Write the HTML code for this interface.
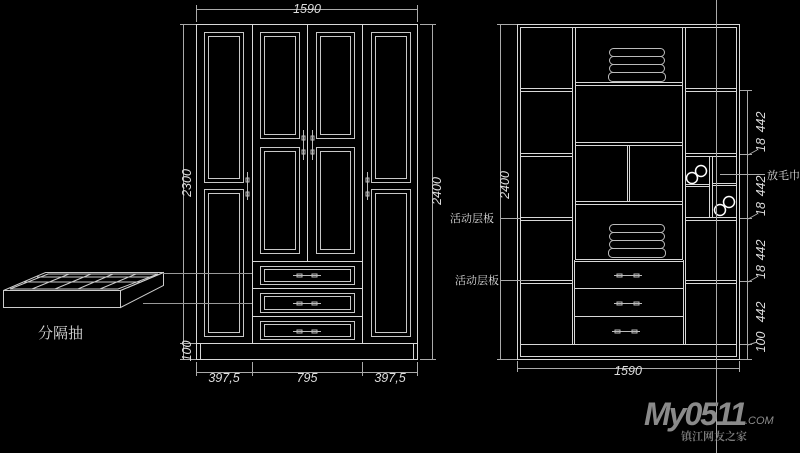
<!DOCTYPE html>
<html><head><meta charset="utf-8"><style>
html,body{margin:0;padding:0;background:#000;width:800px;height:453px;overflow:hidden}
svg{display:block}
text{font-family:"Liberation Sans",sans-serif;fill:#ddd;font-style:italic}
.cj{font-family:"Liberation Serif","Noto Serif CJK SC",serif;font-style:normal}
</style></head><body>
<svg width="800" height="453" viewBox="0 0 800 453" xmlns="http://www.w3.org/2000/svg">
<g stroke="#d8d8d8" stroke-width="1" fill="none">
<rect x="196.5" y="24.5" width="221" height="335"/>
<line x1="196" y1="343.5" x2="417" y2="343.5"/>
<line x1="200.5" y1="344" x2="200.5" y2="359"/><line x1="413.5" y1="344" x2="413.5" y2="359"/>
<line x1="252.5" y1="24" x2="252.5" y2="343"/>
<line x1="362.5" y1="24" x2="362.5" y2="343"/>
<line x1="307.5" y1="24" x2="307.5" y2="261"/>
<line x1="252" y1="261.5" x2="362" y2="261.5"/>
<line x1="252" y1="288.5" x2="362" y2="288.5"/>
<line x1="252" y1="316.5" x2="362" y2="316.5"/>
<g stroke="#c8c8c8">
<rect x="204.5" y="32.5" width="39" height="150"/><rect x="208.5" y="36.5" width="31" height="142"/>
<rect x="204.5" y="189.5" width="39" height="147"/><rect x="208.5" y="193.5" width="31" height="139"/>
<rect x="260.5" y="32.5" width="39" height="106"/><rect x="264.5" y="36.5" width="31" height="98"/>
<rect x="260.5" y="147.5" width="39" height="106"/><rect x="264.5" y="151.5" width="31" height="98"/>
<rect x="316.5" y="32.5" width="38" height="106"/><rect x="320.5" y="36.5" width="30" height="98"/>
<rect x="316.5" y="147.5" width="38" height="106"/><rect x="320.5" y="151.5" width="30" height="98"/>
<rect x="371.5" y="32.5" width="39" height="150"/><rect x="375.5" y="36.5" width="31" height="142"/>
<rect x="371.5" y="189.5" width="39" height="147"/><rect x="375.5" y="193.5" width="31" height="139"/>
<rect x="260.5" y="266.5" width="94" height="18"/><rect x="264.5" y="269.5" width="86" height="12"/>
<rect x="260.5" y="293.5" width="94" height="19"/><rect x="264.5" y="296.5" width="86" height="13"/>
<rect x="260.5" y="321.5" width="94" height="18"/><rect x="264.5" y="324.5" width="86" height="12"/>
</g>
<g stroke="#bbb">
<line x1="247.5" y1="172" x2="247.5" y2="200"/><rect x="246" y="178" width="3" height="4"/><rect x="246" y="192" width="3" height="4"/>
<line x1="367.5" y1="172" x2="367.5" y2="200"/><rect x="366" y="178" width="3" height="4"/><rect x="366" y="192" width="3" height="4"/>
<line x1="303.5" y1="130" x2="303.5" y2="160"/><rect x="302" y="136" width="3" height="4"/><rect x="302" y="150" width="3" height="4"/>
<line x1="312.5" y1="130" x2="312.5" y2="160"/><rect x="311" y="136" width="3" height="4"/><rect x="311" y="150" width="3" height="4"/>
<line x1="293" y1="275.5" x2="321" y2="275.5"/><rect x="297" y="274" width="5" height="3"/><rect x="312" y="274" width="5" height="3"/>
<line x1="293" y1="303.5" x2="321" y2="303.5"/><rect x="297" y="302" width="5" height="3"/><rect x="312" y="302" width="5" height="3"/>
<line x1="293" y1="331.5" x2="321" y2="331.5"/><rect x="297" y="330" width="5" height="3"/><rect x="312" y="330" width="5" height="3"/>
</g>
<g stroke="#aaa">
<line x1="196" y1="9.5" x2="417" y2="9.5"/><line x1="196.5" y1="5" x2="196.5" y2="22"/><line x1="417.5" y1="5" x2="417.5" y2="22"/>
<line x1="183.5" y1="24" x2="183.5" y2="359"/><line x1="180" y1="24.5" x2="196" y2="24.5"/><line x1="180" y1="343.5" x2="196" y2="343.5"/><line x1="180" y1="359.5" x2="196" y2="359.5"/>
<line x1="432.5" y1="24" x2="432.5" y2="359"/><line x1="420" y1="24.5" x2="436" y2="24.5"/><line x1="420" y1="359.5" x2="436" y2="359.5"/>
<line x1="196" y1="372.5" x2="417" y2="372.5"/>
<line x1="196.5" y1="362" x2="196.5" y2="376"/><line x1="252.5" y1="362" x2="252.5" y2="376"/><line x1="362.5" y1="362" x2="362.5" y2="376"/><line x1="417.5" y1="362" x2="417.5" y2="376"/>
</g>
<g stroke="#ccc">
<polygon points="3.5,290.5 120.5,290.5 120.5,307.5 3.5,307.5"/>
<polygon points="3.5,290.5 45.5,272.5 163.5,272.5 120.5,290.5"/>
<polygon points="120.5,290.5 163.5,272.5 163.5,285.5 120.5,307.5"/>
<polygon points="10,289 48,274 158,274 118,289"/>
<line x1="24" y1="282" x2="140" y2="282"/>
<line x1="37" y1="277" x2="150" y2="277"/>
<line x1="32" y1="289" x2="69" y2="274"/><line x1="55" y1="289" x2="91" y2="274"/><line x1="78" y1="289" x2="113" y2="274"/><line x1="100" y1="289" x2="136" y2="274"/>
</g>
<g stroke="#999"><line x1="163" y1="273.5" x2="252" y2="273.5"/><line x1="143" y1="303.5" x2="252" y2="303.5"/></g>

<rect x="517.5" y="24.5" width="222" height="335"/>
<rect x="520.5" y="27.5" width="216" height="329"/>
<line x1="520" y1="344.5" x2="737" y2="344.5"/>
<line x1="572.5" y1="27" x2="572.5" y2="344"/><line x1="575.5" y1="27" x2="575.5" y2="260"/>
<line x1="682.5" y1="27" x2="682.5" y2="260"/><line x1="685.5" y1="27" x2="685.5" y2="344"/>
<line x1="574.5" y1="260" x2="574.5" y2="344"/><line x1="683.5" y1="260" x2="683.5" y2="344"/>
<g>
<line x1="520" y1="88.5" x2="572" y2="88.5"/><line x1="520" y1="91.5" x2="572" y2="91.5"/>
<line x1="520" y1="153.5" x2="572" y2="153.5"/><line x1="520" y1="156.5" x2="572" y2="156.5"/>
<line x1="520" y1="217.5" x2="572" y2="217.5"/><line x1="520" y1="220.5" x2="572" y2="220.5"/>
<line x1="520" y1="280.5" x2="572" y2="280.5"/><line x1="520" y1="283.5" x2="572" y2="283.5"/>
<line x1="575" y1="82.5" x2="682" y2="82.5"/><line x1="575" y1="85.5" x2="682" y2="85.5"/>
<line x1="575" y1="142.5" x2="682" y2="142.5"/><line x1="575" y1="145.5" x2="682" y2="145.5"/>
<line x1="575" y1="201.5" x2="682" y2="201.5"/><line x1="575" y1="204.5" x2="682" y2="204.5"/>
<line x1="575" y1="259.5" x2="683" y2="259.5"/><line x1="575" y1="261.5" x2="683" y2="261.5"/>
<line x1="575" y1="288.5" x2="683" y2="288.5"/><line x1="575" y1="316.5" x2="683" y2="316.5"/>
<line x1="627.5" y1="145" x2="627.5" y2="202"/><line x1="629.5" y1="145" x2="629.5" y2="202"/>
<line x1="685" y1="88.5" x2="737" y2="88.5"/><line x1="685" y1="91.5" x2="737" y2="91.5"/>
<line x1="685" y1="153.5" x2="737" y2="153.5"/><line x1="685" y1="156.5" x2="737" y2="156.5"/>
<line x1="685" y1="217.5" x2="737" y2="217.5"/><line x1="685" y1="220.5" x2="737" y2="220.5"/>
<line x1="685" y1="280.5" x2="737" y2="280.5"/><line x1="685" y1="283.5" x2="737" y2="283.5"/>
<line x1="709.5" y1="156" x2="709.5" y2="217"/><line x1="712.5" y1="156" x2="712.5" y2="217"/>
<line x1="685" y1="184.5" x2="709" y2="184.5"/><line x1="685" y1="186.5" x2="709" y2="186.5"/>
<line x1="712" y1="183.5" x2="737" y2="183.5"/><line x1="712" y1="185.5" x2="737" y2="185.5"/>
</g>
<g stroke="#bbb">
<rect x="609.5" y="48.5" width="55" height="8" rx="4"/><rect x="609.5" y="56.5" width="55" height="8" rx="4"/><rect x="609.5" y="64.5" width="55" height="8" rx="4"/><rect x="608.5" y="72.5" width="57" height="9" rx="4"/>
<rect x="609.5" y="224.5" width="55" height="8" rx="4"/><rect x="609.5" y="232.5" width="55" height="8" rx="4"/><rect x="609.5" y="240.5" width="55" height="8" rx="4"/><rect x="608.5" y="248.5" width="57" height="9" rx="4"/>
</g>
<g stroke="#fff" stroke-width="1.5">
<circle cx="692" cy="178" r="5.5"/><circle cx="701" cy="171" r="5.5"/>
<circle cx="720" cy="210" r="5.5"/><circle cx="729" cy="202" r="5.5"/>
</g>
<g stroke="#bbb">
<line x1="614" y1="275.5" x2="642" y2="275.5"/><rect x="617" y="274" width="5" height="3"/><rect x="634" y="274" width="5" height="3"/>
<line x1="614" y1="303.5" x2="642" y2="303.5"/><rect x="617" y="302" width="5" height="3"/><rect x="634" y="302" width="5" height="3"/>
<line x1="612" y1="331.5" x2="640" y2="331.5"/><rect x="615" y="330" width="5" height="3"/><rect x="632" y="330" width="5" height="3"/>
</g>
<g stroke="#aaa">
<line x1="716.5" y1="0" x2="716.5" y2="453"/>
<line x1="500.5" y1="24" x2="500.5" y2="359"/><line x1="497" y1="24.5" x2="517" y2="24.5"/><line x1="497" y1="359.5" x2="517" y2="359.5"/>
<line x1="517" y1="368.5" x2="739" y2="368.5"/><line x1="517.5" y1="361" x2="517.5" y2="372"/><line x1="739.5" y1="361" x2="739.5" y2="372"/>
<line x1="747.5" y1="90" x2="747.5" y2="359"/>
<line x1="740" y1="90.5" x2="752" y2="90.5"/><line x1="740" y1="154.5" x2="752" y2="154.5"/><line x1="740" y1="218.5" x2="752" y2="218.5"/><line x1="740" y1="281.5" x2="752" y2="281.5"/><line x1="740" y1="344.5" x2="752" y2="344.5"/><line x1="740" y1="359.5" x2="752" y2="359.5"/>
<line x1="748" y1="155" x2="757" y2="150"/><line x1="748" y1="219" x2="757" y2="214"/><line x1="748" y1="282" x2="757" y2="277"/><line x1="748" y1="345" x2="757" y2="342"/>
<line x1="500" y1="218.5" x2="520" y2="218.5"/><line x1="500" y1="280.5" x2="530" y2="280.5"/>
<line x1="720" y1="174.5" x2="765" y2="174.5"/>
</g>
</g>
<g font-size="12.5">
<text x="307" y="13" text-anchor="middle">1590</text>
<text transform="translate(191,183) rotate(-90)" text-anchor="middle">2300</text>
<text transform="translate(191,351) rotate(-90)" text-anchor="middle">100</text>
<text transform="translate(441,191) rotate(-90)" text-anchor="middle">2400</text>
<text x="224" y="382" text-anchor="middle">397,5</text>
<text x="307" y="382" text-anchor="middle">795</text>
<text x="390" y="382" text-anchor="middle">397,5</text>
<text transform="translate(509,185) rotate(-90)" text-anchor="middle">2400</text>
<text x="628" y="375" text-anchor="middle">1590</text>
<text transform="translate(765,122) rotate(-90)" text-anchor="middle">442</text>
<text transform="translate(765,145) rotate(-90)" text-anchor="middle">18</text>
<text transform="translate(765,186) rotate(-90)" text-anchor="middle">442</text>
<text transform="translate(765,209) rotate(-90)" text-anchor="middle">18</text>
<text transform="translate(765,250) rotate(-90)" text-anchor="middle">442</text>
<text transform="translate(765,272) rotate(-90)" text-anchor="middle">18</text>
<text transform="translate(765,312) rotate(-90)" text-anchor="middle">442</text>
<text transform="translate(765,342) rotate(-90)" text-anchor="middle">100</text>
</g>
<text class="cj" x="450" y="222" font-size="11">活动层板</text>
<text class="cj" x="455" y="284" font-size="11">活动层板</text>
<text class="cj" x="767" y="179" font-size="11">放毛巾</text>
<text class="cj" x="38" y="338" font-size="15">分隔抽</text>
<text x="644" y="425" font-size="32" font-weight="bold" font-style="normal" style="fill:#8a8a8a;letter-spacing:-2px">My0511</text>
<text x="745" y="424" font-size="11" font-style="normal" style="fill:#8a8a8a">.COM</text>
<text class="cj" x="681" y="440" font-size="11" style="fill:#7a7a7a;font-weight:bold">镇江网友之家</text>
</svg>
</body></html>
